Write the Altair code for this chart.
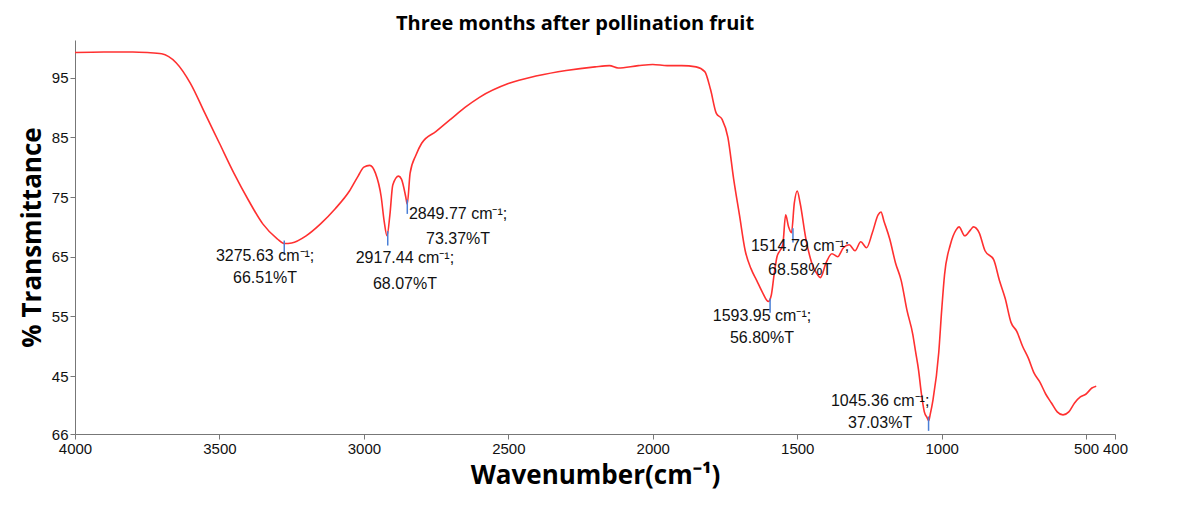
import altair as alt
import pandas as pd

# spectrum
wavenumber = [4000, 3900, 3800, 3750, 3700, 3650, 3600, 3550, 3500, 3450, 3400, 3350, 3300, 3275, 3250,
              3200, 3150, 3100, 3050, 3020, 3000, 2980, 2960, 2940, 2930, 2920, 2910, 2900, 2880, 2870,
              2855, 2850, 2840, 2820, 2800, 2750, 2700, 2650, 2600, 2500, 2400, 2300, 2200, 2150, 2120,
              2050, 2000, 1950, 1900, 1850, 1820, 1800, 1780, 1760, 1740, 1720, 1700, 1680, 1660, 1640,
              1620, 1600, 1590, 1580, 1570, 1560, 1550, 1540, 1530, 1520, 1510, 1500, 1490, 1470, 1450,
              1430, 1420, 1400, 1380, 1360, 1340, 1320, 1300, 1280, 1260, 1240, 1220, 1210, 1200, 1180,
              1160, 1140, 1120, 1100, 1090, 1080, 1070, 1060, 1050, 1045, 1040, 1030, 1010, 1000, 990,
              970, 950, 940, 920, 900, 890, 870, 850, 820, 800, 780, 760, 740, 720, 700,
              680, 660, 640, 620, 600, 580, 560, 540, 520, 500, 480, 465]
transmittance = [99.2, 99.3, 99.3, 99.2, 99.0, 97.5, 94.0, 89.0, 84.0, 79.0, 74.5, 70.5, 68.0, 67.2, 67.3,
                 68.5, 70.5, 73.0, 76.0, 78.5, 80.0, 80.3, 79.0, 75.0, 71.0, 68.5, 72.0, 77.0, 78.5, 78.0,
                 75.0, 73.8, 79.0, 82.0, 84.0, 86.0, 88.0, 90.0, 91.7, 94.0, 95.3, 96.2, 96.8, 97.0, 96.6,
                 97.0, 97.2, 97.0, 97.0, 96.8, 96.0, 93.0, 89.0, 88.0, 85.0, 78.0, 72.0, 66.0, 63.0, 61.0,
                 59.0, 57.5, 58.5, 62.0, 65.0, 66.0, 67.0, 72.0, 70.0, 69.0, 74.0, 76.0, 74.0, 68.0, 64.0,
                 62.0, 61.5, 64.0, 65.5, 65.0, 66.5, 67.0, 66.0, 67.5, 66.5, 69.0, 72.0, 72.5, 71.0, 68.0,
                 64.0, 61.0, 56.0, 52.0, 49.0, 46.0, 42.0, 39.0, 38.0, 37.5, 38.5, 41.0, 49.0, 56.0, 62.0,
                 67.0, 69.5, 70.0, 68.5, 69.5, 70.0, 69.0, 66.0, 64.5, 61.0, 58.0, 54.0, 52.5, 50.0, 48.0,
                 45.5, 44.0, 42.0, 40.5, 39.0, 38.5, 39.0, 40.5, 41.5, 42.0, 43.0, 43.3]

# peak markers
peak_x = [3275.63, 2917.44, 2849.77, 1593.95, 1514.79, 1045.36]
peak_y = [66.51, 68.07, 73.37, 56.80, 68.58, 37.03]

# annotation labels (two lines each)
label_text = ["3275.63 cm⁻¹;", "66.51%T", "2917.44 cm⁻¹;", "68.07%T", "2849.77 cm⁻¹;", "73.37%T",
              "1514.79 cm⁻¹;", "68.58%T", "1593.95 cm⁻¹;", "56.80%T", "1045.36 cm⁻¹;", "37.03%T"]
label_x = [3342, 3342, 2858, 2858, 2674, 2674, 1490, 1490, 1622, 1622, 1213, 1213]
label_y = [65.2, 61.5, 64.7, 60.5, 72.2, 68.0, 66.8, 62.7, 55.0, 51.3, 40.8, 37.2]

x_ticks = [4000, 3500, 3000, 2500, 2000, 1500, 1000, 500, 400]
y_ticks = [35.3, 40, 45, 50, 55, 60, 65, 70, 75, 80, 85, 90, 95, 101]

spec = pd.DataFrame({"wn": wavenumber, "t": transmittance})
peaks = pd.DataFrame({"wn": peak_x, "lo": [v - 1.2 for v in peak_y], "hi": [v + 1.2 for v in peak_y]})
labels = pd.DataFrame({"wn": label_x, "t": label_y, "text": label_text})

xs = alt.Scale(domain=[4000, 400], nice=False)
ys = alt.Scale(domain=[35.3, 101.3], nice=False, zero=False)

line = alt.Chart(spec).mark_line(color="#ff3030", strokeWidth=1.6, interpolate="monotone").encode(
    x=alt.X("wn:Q", scale=xs, title="Wavenumber(cm⁻¹)",
            axis=alt.Axis(values=x_ticks, format="d", labelFontSize=15, titleFontSize=26,
                          titleFontWeight="bold", titleFont="Open Sans", titlePadding=6,
                          labelFlush=False, labelOverlap=False)),
    y=alt.Y("t:Q", scale=ys, title="% Transmittance",
            axis=alt.Axis(values=y_ticks, labelExpr="datum.value < 36 ? '66' : datum.value",
                          labelFontSize=15, titleFontSize=26, titleFontWeight="bold",
                          titleFont="Open Sans", titlePadding=6, labelOverlap=False,
                          labelFlush=False)),
)

ticks = alt.Chart(peaks).mark_rule(color="#4a7fd6", strokeWidth=1.5).encode(
    x="wn:Q", y="lo:Q", y2="hi:Q"
)

text = alt.Chart(labels).mark_text(fontSize=16, font="Liberation Sans", color="#111").encode(
    x="wn:Q", y="t:Q", text="text:N"
)

chart = alt.layer(line, ticks, text).properties(
    width=1040, height=394,
    autosize=alt.AutoSizeParams(type="none"),
    padding={"left": 67, "top": 32, "right": 77, "bottom": 71},
    title=alt.TitleParams("Three months after pollination fruit", fontSize=20, fontWeight="bold",
                          font="Open Sans", dx=-20, offset=6),
).configure_axis(
    grid=False, labelFont="Liberation Sans", labelColor="#111", titleColor="#000",
    domainColor="#777", tickColor="#777"
).configure_view(stroke=None)

chart.save("out.html", embed_options={"renderer": "svg", "actions": False})
